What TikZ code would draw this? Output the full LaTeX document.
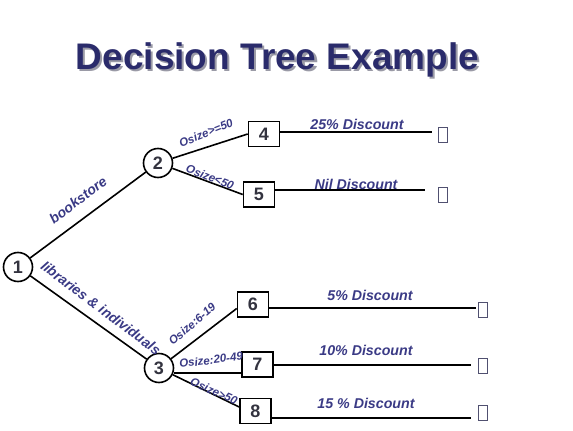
\documentclass[tikz,border=0pt]{standalone}
\usepackage{fontspec}
\setmainfont{Liberation Sans}
\definecolor{navy}{HTML}{2A2B6B}
\definecolor{shade}{HTML}{9A9AA6}
\definecolor{lblc}{HTML}{3A3A85}
\definecolor{numc}{HTML}{33333F}
\definecolor{leafc}{HTML}{505070}
\begin{document}
\begin{tikzpicture}[x=1pt,y=-1pt,
  dnode/.style={circle,draw,line width=1.6pt,minimum size=29pt,inner sep=0pt,
    font=\fontsize{18}{18}\selectfont\bfseries,text=numc},
  rbox/.style={rectangle,draw,line width=1.6pt,minimum width=31pt,minimum height=25pt,inner sep=0pt,
    font=\fontsize{18}{18}\selectfont\bfseries,text=numc},
  leaf/.style={rectangle,draw=leafc,line width=1.2pt,minimum width=9pt,minimum height=15pt,inner sep=0pt},
  edge/.style={line width=1.6pt,black},
  lbl/.style={font=\fontsize{11.5}{12}\selectfont\bfseries\itshape,text=lblc,inner sep=0pt},
  blbl/.style={font=\fontsize{14}{14}\selectfont\bfseries\itshape,text=lblc,inner sep=0pt},
  dlbl/.style={font=\fontsize{14.2}{14}\selectfont\bfseries\itshape,text=lblc,inner sep=0pt}
]
\useasboundingbox (0,0) rectangle (573,431);
% title
\node[anchor=base,font=\fontsize{37}{40}\selectfont\bfseries,text=shade] (tshadow) at (279.5,71) {Decision Tree Example};
\node[anchor=base,font=\fontsize{37}{40}\selectfont\bfseries,text=navy] (title) at (277.5,69) {Decision Tree Example};
% decision nodes
\node[dnode] (n1) at (18,267) {1};
\node[dnode] (n2) at (158,163) {2};
\node[dnode] (n3) at (159,368) {3};
% boxes
\node[rbox] (b4) at (264,134) {4};
\node[rbox] (b5) at (259,194.5) {5};
\node[rbox] (b6) at (253,304.5) {6};
\node[rbox] (b7) at (257.5,364.5) {7};
\node[rbox] (b8) at (255.5,411) {8};
% leaves
\node[leaf] (l4) at (443,135) {};
\node[leaf] (l5) at (443,195) {};
\node[leaf] (l6) at (483,310) {};
\node[leaf] (l7) at (483,366) {};
\node[leaf] (l8) at (483,413) {};
\coordinate (e4) at (432,132);
\coordinate (e5) at (425,190);
\coordinate (e6) at (476,308);
\coordinate (e7) at (471,365);
\coordinate (e8) at (471,418);
% edges
\draw[edge] (n1) -- (n2);
\draw[edge] (n1) -- (n3);
\draw[edge] (n2) -- (b4.west);
\draw[edge] (n2) -- (b5.west);
\draw[edge] (n3) -- ([yshift=-4pt]b6.west);
\draw[edge] ([yshift=-5pt]n3.east) -- ([yshift=-8.5pt]b7.west);
\draw[edge] (n3) -- ([yshift=4pt]b8.west);
\draw[edge] (b4.east |- e4) -- (e4);
\draw[edge] (b5.east |- e5) -- (e5);
\draw[edge] (b6.east |- e6) -- (e6);
\draw[edge] (b7.east |- e7) -- (e7);
\draw[edge] (b8.east |- e8) -- (e8);
% labels
\node[blbl,rotate=37] (tb) at (78,200) {bookstore};
\node[blbl,rotate=-37] (tl) at (101,308) {libraries \& individuals};
\node[lbl,rotate=22] (t4) at (206,133) {Osize>=50};
\node[lbl,rotate=-21] (t5) at (210,177) {Osize<50};
\node[lbl,rotate=41] (t6) at (192,324) {Osize:6-19};
\node[lbl,rotate=7] (t7) at (211,360) {Osize:20-49};
\node[lbl,rotate=-24] (t8) at (214,391) {Osize>50};
\node[dlbl] (d4) at (357,124) {25\% Discount};
\node[dlbl] (d5) at (356,184) {Nil Discount};
\node[dlbl] (d6) at (370,295) {5\% Discount};
\node[dlbl] (d7) at (366,350) {10\% Discount};
\node[dlbl] (d8) at (366,403) {15 \% Discount};
\end{tikzpicture}
\end{document}
